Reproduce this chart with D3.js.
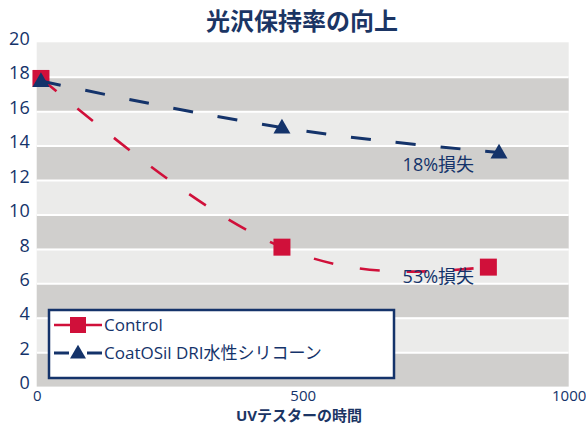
<!DOCTYPE html>
<html>
<head>
<meta charset="utf-8">
<script src="https://cdn.jsdelivr.net/npm/d3@7"></script>
<style>
  body { margin: 0; background: #fff; }
  text { font-family: "Open Sans", "Noto Sans CJK JP", sans-serif; }
</style>
</head>
<body>
<svg id="chart"></svg>
<script>
const title = "光沢保持率の向上";
const xLabel = "UVテスターの時間";
const xTicks = [0, 500, 1000];
const yTicks = [0, 2, 4, 6, 8, 10, 12, 14, 16, 18, 20];

const controlHours = [8, 461, 849];
const controlGloss = [17.9, 8.1, 6.94];
const coatHours = [8, 461, 869];
const coatGloss = [17.75, 15.05, 13.6];

const seriesNames = ["Control", "CoatOSil DRI水性シリコーン"];
const notes = [
  { text: "18%損失", hours: 755, gloss: 12.55 },
  { text: "53%損失", hours: 755, gloss: 6.0 }
];

const svgWidth = 586, svgHeight = 425;
const margin = { top: 42.3, right: 17.3, bottom: 38.4, left: 36.7 };
const width = svgWidth - margin.left - margin.right;
const height = svgHeight - margin.top - margin.bottom;

const navy = "#14336a";
const red = "#d0103a";

const root = d3.select("#chart")
  .attr("width", svgWidth)
  .attr("height", svgHeight);

const svg = root.append("g")
  .attr("transform", `translate(${margin.left},${margin.top})`);

const xScale = d3.scaleLinear().domain([0, 1000]).range([0, width]);
const yScale = d3.scaleLinear().domain([0, 20]).range([height, 0]);

// alternating bands
const bands = d3.range(0, 20, 2);
svg.selectAll(".band")
  .data(bands)
  .enter()
  .append("rect")
  .attr("class", "band")
  .attr("x", 0)
  .attr("width", width)
  .attr("y", d => yScale(d + 2))
  .attr("height", d => yScale(d) - yScale(d + 2))
  .attr("fill", d => (d / 2) % 2 === 0 ? "#d0cfcd" : "#ebebea");

// white separators
svg.append("g")
  .call(d3.axisLeft(yScale).tickValues(yTicks.slice(1, -1)).tickSize(-width).tickFormat(""))
  .call(g => g.select(".domain").remove())
  .call(g => g.selectAll("line").attr("stroke", "#fff").attr("stroke-width", 2));

// y labels
svg.append("g")
  .call(d3.axisLeft(yScale).tickValues(yTicks).tickSize(0).tickPadding(7))
  .call(g => g.select(".domain").remove())
  .call(g => g.selectAll("text")
    .attr("fill", navy)
    .attr("dy", "0.12em")
    .style("font-size", "18px"));

// x labels
svg.append("g")
  .attr("transform", `translate(0,${height})`)
  .call(d3.axisBottom(xScale).tickValues(xTicks).tickSize(0).tickPadding(4).tickFormat(d3.format("d")))
  .call(g => g.select(".domain").remove())
  .call(g => g.selectAll("text")
    .attr("fill", navy)
    .style("font-size", "15px"));

const line = d3.line()
  .x(d => xScale(d[0]))
  .y(d => yScale(d[1]))
  .curve(d3.curveNatural);

const controlData = controlHours.map((h, i) => [h, controlGloss[i]]);
const coatData = coatHours.map((h, i) => [h, coatGloss[i]]);

svg.append("path")
  .datum(controlData)
  .attr("d", line)
  .attr("fill", "none")
  .attr("stroke", red)
  .attr("stroke-width", 2.6)
  .attr("stroke-dasharray", "20,27");

svg.selectAll(".sq")
  .data(controlData)
  .enter()
  .append("path")
  .attr("class", "sq")
  .attr("transform", d => `translate(${xScale(d[0])},${yScale(d[1])})`)
  .attr("d", d3.symbol(d3.symbolSquare, 17 * 17))
  .attr("fill", red);

svg.append("path")
  .datum(coatData)
  .attr("d", line)
  .attr("fill", "none")
  .attr("stroke", navy)
  .attr("stroke-width", 3)
  .attr("stroke-dasharray", "20,25");

const tri = d3.symbol(d3.symbolTriangle, Math.sqrt(3) / 4 * 17 * 17);
svg.selectAll(".tri")
  .data(coatData)
  .enter()
  .append("path")
  .attr("class", "tri")
  .attr("transform", d => `translate(${xScale(d[0])},${yScale(d[1]) + 1})`)
  .attr("d", tri)
  .attr("fill", navy);

// loss notes
svg.selectAll(".note")
  .data(notes)
  .enter()
  .append("text")
  .attr("class", "note")
  .attr("x", d => xScale(d.hours))
  .attr("y", d => yScale(d.gloss))
  .attr("text-anchor", "middle")
  .attr("fill", navy)
  .style("font-size", "18px")
  .text(d => d.text);

// legend
const legend = root.append("g").attr("transform", "translate(49,310)");
legend.append("rect")
  .attr("width", 345)
  .attr("height", 68)
  .attr("fill", "#fff")
  .attr("stroke", navy)
  .attr("stroke-width", 2.5);

const row1 = legend.append("g").attr("transform", "translate(0,15)");
row1.append("line").attr("x1", 5).attr("x2", 53).attr("stroke", red).attr("stroke-width", 2.7);
row1.append("path").attr("transform", "translate(29,0)").attr("d", d3.symbol(d3.symbolSquare, 16 * 16)).attr("fill", red);
row1.append("text").attr("x", 55).attr("dy", "0.35em").attr("fill", navy).style("font-size", "17px").text(seriesNames[0]);

const row2 = legend.append("g").attr("transform", "translate(0,43)");
row2.append("line").attr("x1", 5).attr("x2", 20).attr("stroke", navy).attr("stroke-width", 3);
row2.append("line").attr("x1", 38).attr("x2", 53).attr("stroke", navy).attr("stroke-width", 3);
row2.append("path").attr("transform", "translate(29,1)").attr("d", d3.symbol(d3.symbolTriangle, Math.sqrt(3) / 4 * 16 * 16)).attr("fill", navy);
row2.append("text").attr("x", 55).attr("dy", "0.35em").attr("fill", navy).style("font-size", "17px").text(seriesNames[1]);

// title and axis title
root.append("text")
  .attr("x", 302)
  .attr("y", 30)
  .attr("text-anchor", "middle")
  .attr("fill", "#1b3564")
  .style("font-family", "'Noto Sans CJK JP', sans-serif")
  .style("font-weight", "bold")
  .style("font-size", "24px")
  .text(title);

root.append("text")
  .attr("x", 299)
  .attr("y", 421)
  .attr("text-anchor", "middle")
  .attr("fill", "#1b3564")
  .style("font-weight", "bold")
  .style("font-size", "15px")
  .text(xLabel);
</script>
</body>
</html>
